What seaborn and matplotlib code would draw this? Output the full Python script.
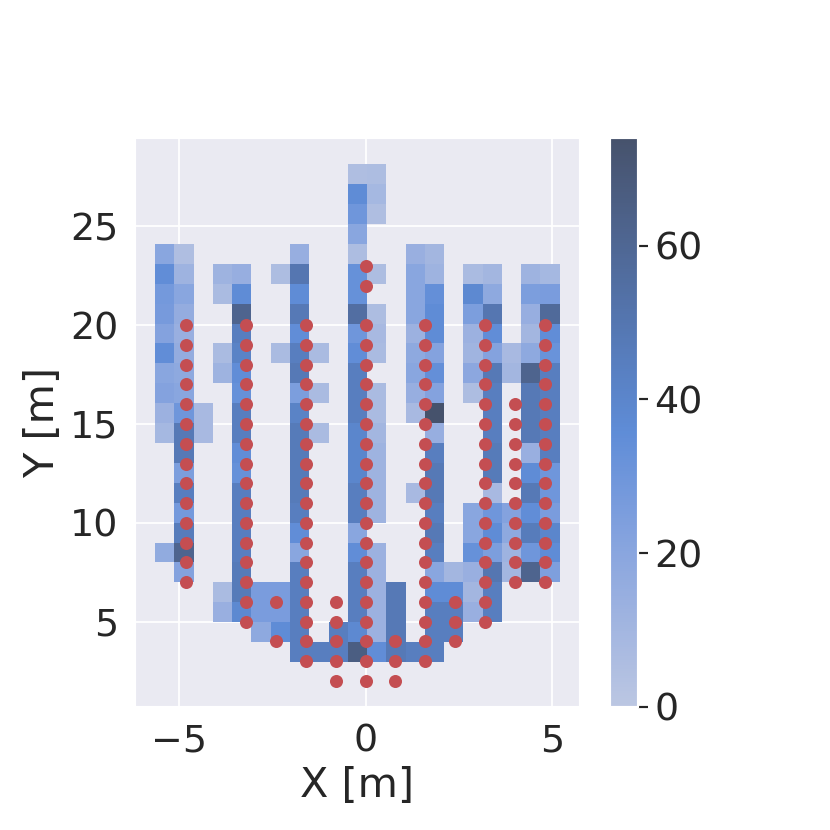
import numpy as np
import pandas as pd
import matplotlib
matplotlib.use("Agg")
import matplotlib.pyplot as plt
import seaborn as sns

# bin edges of the 2D histogram (21 x 25 cells)
x_edges = np.linspace(-5.633, 5.198, 22)
y_edges = np.linspace(2.96, 28.14, 26)

# counts per cell, rows from top (y ~ 27.6) to bottom (y ~ 3.5), columns left -> right
counts = [
    [0, 0, 0, 0, 0, 0, 0, 0, 0, 0, 5, 6, 0, 0, 0, 0, 0, 0, 0, 0, 0],
    [0, 0, 0, 0, 0, 0, 0, 0, 0, 0, 36, 9, 0, 0, 0, 0, 0, 0, 0, 0, 0],
    [0, 0, 0, 0, 0, 0, 0, 0, 0, 0, 30, 5, 0, 0, 0, 0, 0, 0, 0, 0, 0],
    [0, 0, 0, 0, 0, 0, 0, 0, 0, 0, 20, 0, 0, 0, 0, 0, 0, 0, 0, 0, 0],
    [20, 5, 0, 0, 0, 0, 0, 15, 0, 0, 6, 0, 0, 14, 10, 0, 0, 0, 0, 0, 0],
    [35, 12, 0, 12, 15, 0, 6, 50, 0, 0, 33, 6, 0, 20, 12, 0, 7, 10, 0, 12, 9],
    [28, 20, 0, 7, 36, 0, 0, 36, 0, 0, 33, 0, 0, 20, 34, 0, 38, 18, 0, 25, 26],
    [27, 16, 0, 0, 62, 0, 0, 48, 0, 0, 55, 6, 0, 20, 36, 0, 25, 50, 0, 15, 58],
    [22, 14, 0, 0, 45, 0, 0, 35, 0, 0, 30, 8, 0, 13, 36, 0, 13, 35, 0, 10, 35],
    [35, 16, 0, 7, 42, 0, 7, 45, 7, 0, 35, 7, 0, 18, 22, 0, 11, 22, 8, 18, 32],
    [20, 18, 0, 12, 35, 0, 0, 48, 0, 0, 45, 0, 0, 20, 34, 0, 19, 48, 10, 62, 45],
    [22, 20, 0, 0, 33, 0, 0, 25, 7, 0, 45, 7, 0, 15, 22, 0, 6, 45, 0, 48, 45],
    [13, 30, 8, 0, 45, 0, 0, 42, 0, 0, 45, 7, 0, 8, 74, 0, 0, 45, 0, 48, 45],
    [9, 48, 8, 0, 45, 0, 0, 47, 7, 0, 40, 10, 0, 0, 15, 0, 0, 45, 0, 48, 45],
    [0, 48, 0, 0, 35, 0, 0, 47, 0, 0, 40, 12, 0, 0, 45, 0, 0, 47, 0, 14, 45],
    [0, 25, 0, 0, 33, 0, 0, 47, 0, 0, 40, 12, 0, 0, 48, 0, 0, 47, 0, 36, 30],
    [0, 45, 0, 0, 45, 0, 0, 47, 0, 0, 45, 12, 0, 8, 48, 0, 0, 8, 0, 48, 30],
    [0, 28, 0, 0, 45, 0, 0, 45, 0, 0, 45, 12, 0, 0, 45, 0, 20, 30, 22, 35, 26],
    [0, 46, 0, 0, 45, 0, 0, 35, 0, 0, 20, 0, 0, 0, 48, 0, 20, 36, 18, 46, 40],
    [17, 62, 0, 0, 45, 0, 0, 20, 0, 0, 35, 13, 0, 0, 45, 0, 33, 25, 12, 30, 36],
    [0, 22, 0, 0, 47, 0, 0, 45, 0, 0, 45, 13, 0, 0, 20, 10, 14, 50, 10, 62, 24],
    [0, 0, 0, 7, 47, 26, 26, 45, 0, 0, 45, 13, 48, 0, 36, 36, 10, 45, 0, 0, 0],
    [0, 0, 0, 14, 38, 26, 26, 45, 0, 0, 45, 13, 48, 0, 45, 45, 14, 45, 0, 0, 0],
    [0, 0, 0, 0, 0, 18, 36, 45, 0, 45, 38, 13, 48, 0, 45, 45, 0, 0, 0, 0, 0],
    [0, 0, 0, 0, 0, 0, 0, 45, 45, 45, 66, 35, 48, 45, 45, 0, 0, 0, 0, 0, 0],
]

# ground truth points, one list of y values per x column
gt_x = [-4.8, -3.2, -2.4, -1.6, -0.8, 0.0, 0.8, 1.6, 2.4, 3.2, 4.0, 4.8]
gt_y = [
    [7, 8, 9, 10, 11, 12, 13, 14, 15, 16, 17, 18, 19, 20],
    [5, 6, 7, 8, 9, 10, 11, 12, 13, 14, 15, 16, 17, 18, 19, 20],
    [4, 6],
    [3, 4, 5, 6, 7, 8, 9, 10, 11, 12, 13, 14, 15, 16, 17, 18, 19, 20],
    [2, 3, 4, 5, 6],
    [2, 3, 4, 5, 6, 7, 8, 9, 10, 11, 12, 13, 14, 15, 16, 17, 18, 19, 20, 22, 23],
    [2, 3, 4],
    [3, 4, 5, 6, 7, 8, 9, 10, 11, 12, 13, 14, 15, 16, 17, 18, 19, 20],
    [4, 5, 6],
    [5, 6, 7, 8, 9, 10, 11, 12, 13, 14, 15, 16, 17, 18, 19, 20],
    [7, 8, 9, 10, 11, 12, 13, 14, 15, 16],
    [7, 8, 9, 10, 11, 12, 13, 14, 15, 16, 17, 18, 19, 20],
]

# histogram table from cell centres + weights
xc = (x_edges[:-1] + x_edges[1:]) / 2
yc = (y_edges[:-1] + y_edges[1:]) / 2
cnt = np.array(counts)[::-1]  # bottom row first
gx, gy = np.meshgrid(xc, yc)
mask = cnt > 0
hist_df = pd.DataFrame({"x": gx[mask], "y": gy[mask], "w": cnt[mask]})

pts = pd.DataFrame({
    "x": np.concatenate([[x] * len(ys) for x, ys in zip(gt_x, gt_y)]),
    "y": np.concatenate(gt_y),
})

sns.set_theme(style="darkgrid", font_scale=2)

DPI = 124.25
fig = plt.figure(figsize=(830 / DPI, 830 / DPI), dpi=DPI)
ax = fig.add_axes([135 / 830, 123.3 / 830, 445 / 830, 568.4 / 830])
cax = fig.add_axes([610 / 830, 123.3 / 830, 28 / 830, 568.4 / 830])

sns.histplot(data=hist_df, x="x", y="y", weights="w", bins=[x_edges, y_edges],
             cbar=True, cbar_ax=cax, vmin=0, vmax=74, ax=ax)
sns.scatterplot(data=pts, x="x", y="y", color="#c44e52", s=57, linewidth=0, ax=ax)

ax.set_xlim(-6.17, 5.74)
ax.set_ylim(0.70, 29.45)
ax.set_xticks([-5, 0, 5])
ax.set_yticks([5, 10, 15, 20, 25])
ax.set_xlabel("X [m]")
ax.set_ylabel("Y [m]")

cax.tick_params(axis="y", right=True, length=6, width=1.25, color=".15")

fig.savefig("out.png", dpi=DPI)
